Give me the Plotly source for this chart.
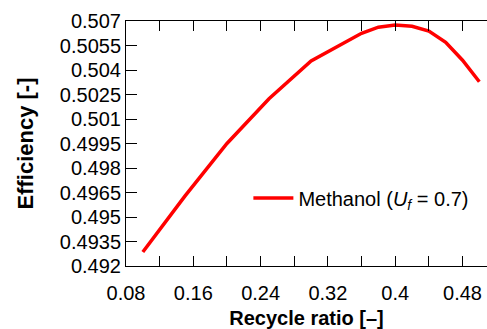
import plotly.graph_objects as go

# Recycle ratio and resulting efficiency (methanol, fuel utilisation 0.7)
recycle_ratio = [0.10, 0.15, 0.20, 0.25, 0.30, 0.35, 0.36, 0.38, 0.40, 0.42, 0.44, 0.46, 0.48, 0.50]
efficiency = [0.49286, 0.49628, 0.49950, 0.50224, 0.50455, 0.50599, 0.50625, 0.50662,
              0.50676, 0.50668, 0.50638, 0.50570, 0.50460, 0.50328]

# Axis tick positions and labels
x_tick_vals = [0.08, 0.16, 0.24, 0.32, 0.40, 0.48]
x_tick_text = ["0.08", "0.16", "0.24", "0.32", "0.4", "0.48"]
y_tick_vals = [0.492, 0.4935, 0.495, 0.4965, 0.498, 0.4995, 0.501, 0.5025, 0.504, 0.5055, 0.507]
y_tick_text = ["0.492", "0.4935", "0.495", "0.4965", "0.498", "0.4995", "0.501", "0.5025",
               "0.504", "0.5055", "0.507"]

FONT = "Liberation Sans, Arial, sans-serif"

fig = go.Figure()
fig.add_trace(go.Scatter(
    x=recycle_ratio, y=efficiency, mode="lines",
    line=dict(color="#ff0000", width=3.5),
    name="Methanol (<i>U</i><sub><i>f</i></sub> = 0.7)",
))

fig.update_layout(
    width=487, height=329,
    margin=dict(l=126, r=0, t=21, b=63, pad=0),
    paper_bgcolor="white", plot_bgcolor="white",
    font=dict(family=FONT, size=20, color="#000"),
    showlegend=True,
    legend=dict(x=0.339, y=0.278, xanchor="left", yanchor="middle", itemwidth=40,
                bgcolor="rgba(0,0,0,0)", font=dict(size=20)),
    xaxis=dict(
        range=[0.08, 0.5091], showgrid=False, zeroline=False,
        showline=True, linecolor="#000", linewidth=1, mirror="allticks",
        ticks="inside", ticklen=10, tickcolor="#000", tickwidth=1,
        tickvals=x_tick_vals, ticktext=x_tick_text, ticklabelstandoff=9,
        minor=dict(ticks="inside", ticklen=10, tickcolor="#000", dtick=0.04, tick0=0.08),
        title=dict(text="<b>Recycle ratio [–]</b>", font=dict(size=20), standoff=8),
    ),
    yaxis=dict(
        range=[0.492, 0.507], showgrid=False, zeroline=False,
        showline=True, linecolor="#000", linewidth=1,
        ticks="inside", ticklen=11, tickcolor="#000", tickwidth=1,
        tickvals=y_tick_vals, ticktext=y_tick_text,
        title=dict(text="<b>Efficiency [-]</b>", font=dict(size=22), standoff=20),
    ),
    yaxis2=dict(
        overlaying="y", side="right", anchor="x",
        range=[0.492, 0.507], showgrid=False, zeroline=False, showline=False,
        ticks="inside", ticklen=3, tickcolor="#000", tickwidth=1,
        tickvals=y_tick_vals, showticklabels=False,
    ),
)

fig.write_html("out.html")
